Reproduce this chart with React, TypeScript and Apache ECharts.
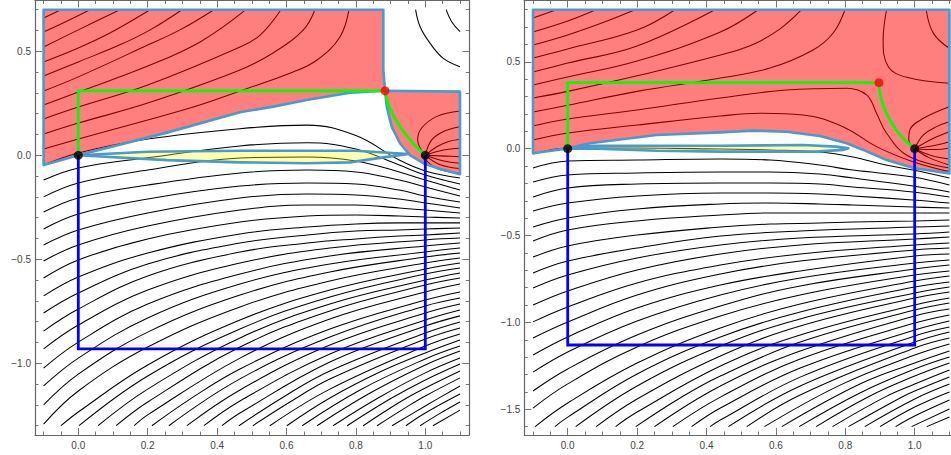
import React, { useEffect, useRef } from "react";
import * as echarts from "echarts";

type Pt = number[];

// ---------- tick values ----------
const xMajor = [0, 0.2, 0.4, 0.6, 0.8, 1.0];
const xMinor = [-0.1, -0.05, 0.05, 0.1, 0.15, 0.25, 0.3, 0.35, 0.45, 0.5, 0.55, 0.65, 0.7, 0.75, 0.85, 0.9, 0.95, 1.05, 1.1];
const yMajorLeft = [-1.0, -0.5, 0, 0.5];
const yMinorLeft = [-1.3, -1.2, -1.1, -0.9, -0.8, -0.7, -0.6, -0.4, -0.3, -0.2, -0.1, 0.1, 0.2, 0.3, 0.4, 0.6, 0.7];
const yMajorRight = [-1.5, -1.0, -0.5, 0, 0.5];
const yMinorRight = [-1.6, -1.4, -1.3, -1.2, -1.1, -0.9, -0.8, -0.7, -0.6, -0.4, -0.3, -0.2, -0.1, 0.1, 0.2, 0.3, 0.4, 0.6, 0.7, 0.8];

// ---------- left panel contours ----------
const leftHumpX = [-0.1, 0, 0.2, 0.466, 0.66, 0.8, 0.925, 1.0, 1.1];
const leftHumpY = [
  [-0.047, 0.011, 0.078, 0.128, 0.145, 0.095, -0.023, -0.075, -0.109],
  [-0.119, -0.061, -0.012, 0.045, 0.06, 0.03, -0.047, -0.095, -0.138],
  [-0.2, -0.133, -0.071, -0.013, -0.008, -0.027, -0.08, -0.119, -0.167],
  [-0.273, -0.205, -0.143, -0.085, -0.071, -0.08, -0.119, -0.152, -0.196],
  [-0.354, -0.282, -0.21, -0.148, -0.133, -0.138, -0.167, -0.196, -0.225],
  [-0.431, -0.359, -0.277, -0.205, -0.186, -0.191, -0.21, -0.229, -0.253],
  [-0.508, -0.431, -0.34, -0.263, -0.239, -0.239, -0.253, -0.263, -0.277],
  [-0.59, -0.503, -0.402, -0.321, -0.292, -0.287, -0.292, -0.297, -0.301],
  [-0.676, -0.585, -0.47, -0.378, -0.345, -0.33, -0.325, -0.325, -0.325],
  [-0.758, -0.662, -0.523, -0.422, -0.383, -0.364, -0.359, -0.354, -0.35],
  [-0.845, -0.739, -0.58, -0.465, -0.422, -0.402, -0.388, -0.383, -0.374],
];
const leftLowX = [-0.1, 0, 0.2, 0.466, 0.725, 1.0, 1.1];
const leftLowY = [
  [-0.931, -0.816, -0.648, -0.518, -0.446, -0.407, -0.398],
  [-1.023, -0.898, -0.715, -0.571, -0.484, -0.436, -0.422],
  [-1.109, -0.975, -0.782, -0.619, -0.523, -0.465, -0.446],
  [-1.2, -1.052, -0.85, -0.672, -0.561, -0.489, -0.47],
  [-1.292, -1.133, -0.922, -0.729, -0.604, -0.518, -0.494],
];
const leftBottom: Pt[][] = [
  [[-0.05, -1.3], [0, -1.234], [0.2, -1.008], [0.466, -0.792], [0.725, -0.648], [1, -0.547], [1.1, -0.518]],
  [[0.002, -1.3], [0.2, -1.061], [0.466, -0.835], [0.725, -0.681], [1, -0.571], [1.1, -0.542]],
  [[0.057, -1.3], [0.2, -1.124], [0.466, -0.878], [0.725, -0.715], [1, -0.6], [1.1, -0.566]],
  [[0.109, -1.3], [0.2, -1.186], [0.466, -0.922], [0.725, -0.748], [1, -0.624], [1.1, -0.59]],
  [[0.161, -1.3], [0.2, -1.248], [0.466, -0.975], [0.725, -0.787], [1, -0.657], [1.1, -0.619]],
  [[0.212, -1.3], [0.322, -1.172], [0.466, -1.027], [0.725, -0.835], [1, -0.696], [1.1, -0.657]],
  [[0.261, -1.3], [0.466, -1.075], [0.725, -0.874], [1, -0.724], [1.1, -0.686]],
  [[0.313, -1.3], [0.466, -1.128], [0.725, -0.912], [1, -0.758], [1.1, -0.715]],
  [[0.362, -1.3], [0.466, -1.181], [0.725, -0.955], [1, -0.792], [1.1, -0.744]],
  [[0.414, -1.3], [0.466, -1.239], [0.725, -0.994], [1, -0.821], [1.1, -0.772]],
  [[0.463, -1.3], [0.596, -1.157], [0.725, -1.037], [1, -0.854], [1.1, -0.801]],
  [[0.503, -1.3], [0.61, -1.186], [0.725, -1.075], [1, -0.883], [1.1, -0.83]],
  [[0.552, -1.3], [0.725, -1.124], [1, -0.917], [1.1, -0.859]],
  [[0.601, -1.3], [0.725, -1.167], [0.869, -1.042], [1, -0.95], [1.1, -0.888]],
  [[0.645, -1.3], [0.812, -1.128], [1, -0.979], [1.1, -0.917]],
  [[0.688, -1.3], [0.841, -1.143], [1, -1.008], [1.1, -0.941]],
  [[0.734, -1.3], [0.869, -1.162], [1, -1.046], [1.1, -0.975]],
  [[0.775, -1.3], [0.898, -1.172], [1, -1.08], [1.1, -1.003]],
  [[0.821, -1.3], [0.927, -1.186], [1, -1.119], [1.1, -1.037]],
  [[0.861, -1.3], [0.956, -1.2], [1, -1.157], [1.1, -1.07]],
  [[0.904, -1.3], [1, -1.205], [1.1, -1.109]],
  [[0.944, -1.3], [1, -1.239], [1.1, -1.148]],
  [[0.985, -1.3], [1.04, -1.243], [1.1, -1.186]],
  [[1.022, -1.3], [1.1, -1.225]],
];
const leftUpper: Pt[][] = [
  [[-0.1, 0.66], [-0.05, 0.7]],
  [[-0.1, 0.593], [-0.038, 0.641], [0.034, 0.7]],
  [[-0.1, 0.521], [0, 0.603], [0.12, 0.7]],
  [[-0.1, 0.449], [0, 0.516], [0.091, 0.588], [0.207, 0.7]],
  [[-0.1, 0.381], [0, 0.449], [0.12, 0.531], [0.207, 0.603], [0.299, 0.7]],
  [[-0.1, 0.309], [0, 0.377], [0.2, 0.53], [0.293, 0.603], [0.391, 0.7]],
  [[-0.1, 0.242], [0, 0.304], [0.2, 0.429], [0.351, 0.545], [0.483, 0.7]],
  [[-0.1, 0.175], [0, 0.232], [0.2, 0.338], [0.466, 0.521], [0.524, 0.578], [0.584, 0.7]],
  [[-0.1, 0.102], [0, 0.155], [0.2, 0.251], [0.466, 0.41], [0.561, 0.492], [0.648, 0.602], [0.682, 0.7]],
  [[-0.1, 0.03], [0, 0.078], [0.2, 0.17], [0.35, 0.242], [0.466, 0.309], [0.619, 0.4], [0.688, 0.458], [0.754, 0.569], [0.78, 0.7]],
  [[0.972, 0.7], [0.985, 0.618], [1.014, 0.538], [1.052, 0.466], [1.1, 0.426]],
  [[1.06, 0.7], [1.076, 0.642], [1.1, 0.594]],
];
const leftFan: Pt[][] = [
  [[1, 0], [0.978, 0.073], [0.989, 0.13], [1.032, 0.186], [1.1, 0.213]],
  [[1, 0], [1.018, 0.073], [1.051, 0.113], [1.1, 0.137]],
  [[1, 0], [1.033, 0.041], [1.065, 0.065], [1.1, 0.077]],
  [[1, 0], [1.052, 0.025], [1.1, 0.034]],
  [[1, 0], [1.06, -0.004], [1.1, -0.007]],
  [[1, 0], [1.05, -0.026], [1.1, -0.038]],
  [[1, 0], [1.043, -0.045], [1.1, -0.063]],
  [[0.99, 0], [1.03, -0.06], [1.1, -0.087]],
];

// ---------- left panel regions and paths ----------
const leftRedA: Pt[] = [[-0.1, 0.7], [0.879, 0.7], [0.879, 0.41], [0.884, 0.31], [0.783, 0.301], [0.658, 0.266], [0.562, 0.234], [0.466, 0.207], [0.255, 0.109], [0, 0], [-0.1, -0.047]];
const leftRedB: Pt[] = [[0.884, 0.31], [1.1, 0.306], [1.1, -0.091], [1.042, -0.066], [0.994, -0.038], [0.956, 0.001], [0.927, 0.058], [0.903, 0.138], [0.889, 0.234]];
const leftLens: Pt[] = [[0, 0], [0.2, 0.017], [0.466, 0.022], [0.8, 0.022], [0.917, 0.01], [0.951, 0.006], [0.879, -0.01], [0.783, -0.034], [0.658, -0.038], [0.466, -0.034], [0.255, -0.023]];
const leftGreenBox: Pt[] = [[0, 0], [0, 0.31], [0.884, 0.31]];
const leftGreenCurve: Pt[] = [[0.884, 0.31], [0.898, 0.226], [0.927, 0.138], [0.965, 0.058], [1, 0]];
const leftBlue: Pt[] = [[0, 0], [0, -0.931], [1, -0.931], [1, 0]];
const leftBlack: Pt[] = [[0, 0], [1, 0]];
const leftRed: Pt[] = [[0.884, 0.31]];

// ---------- right panel contours ----------
const rightJ1: Pt[] = [[-0.1, -0.031], [0, 0.004], [0.2, 0.004], [0.44, -0.002], [0.583, -0.007], [0.727, -0.019], [0.822, -0.048], [0.917, -0.094], [0.995, -0.123], [1.1, -0.169]];
const rightHumpX = [-0.1, 0, 0.2, 0.44, 0.583, 0.727, 0.822, 0.995, 1.1];
const rightHumpY = [
  [-0.111, -0.071, -0.065, -0.059, -0.065, -0.094, -0.123, -0.163, -0.209],
  [-0.192, -0.151, -0.14, -0.134, -0.134, -0.146, -0.169, -0.215, -0.249],
  [-0.278, -0.226, -0.203, -0.197, -0.197, -0.203, -0.22, -0.249, -0.278],
  [-0.359, -0.313, -0.272, -0.255, -0.255, -0.261, -0.272, -0.295, -0.313],
  [-0.451, -0.399, -0.347, -0.318, -0.313, -0.318, -0.324, -0.336, -0.341],
  [-0.531, -0.468, -0.416, -0.382, -0.37, -0.37, -0.37, -0.37, -0.37],
  [-0.624, -0.56, -0.497, -0.451, -0.434, -0.428, -0.422, -0.416, -0.41],
];
const rightLowX = [-0.1, 0, 0.2, 0.44, 0.67, 1.0, 1.1];
const rightLowY = [
  [-0.716, -0.647, -0.572, -0.503, -0.474, -0.451, -0.445],
  [-0.802, -0.727, -0.629, -0.554, -0.514, -0.491, -0.48],
  [-0.9, -0.819, -0.698, -0.606, -0.554, -0.52, -0.508],
  [-0.997, -0.911, -0.773, -0.67, -0.606, -0.554, -0.543],
  [-1.09, -0.998, -0.842, -0.721, -0.647, -0.583, -0.572],
  [-1.188, -1.084, -0.917, -0.785, -0.704, -0.618, -0.606],
  [-1.286, -1.17, -0.992, -0.842, -0.744, -0.658, -0.641],
  [-1.395, -1.268, -1.073, -0.906, -0.79, -0.693, -0.67],
  [-1.493, -1.354, -1.141, -0.963, -0.842, -0.727, -0.704],
];
const rightBottom: Pt[][] = [
  [[-0.094, -1.6], [0, -1.464], [0.2, -1.234], [0.44, -1.032], [0.67, -0.894], [1, -0.762], [1.1, -0.733]],
  [[-0.037, -1.6], [0, -1.545], [0.2, -1.297], [0.44, -1.084], [0.67, -0.94], [1, -0.796], [1.1, -0.767]],
  [[0.023, -1.6], [0.2, -1.366], [0.44, -1.136], [0.67, -0.98], [1, -0.831], [1.1, -0.796]],
  [[0.082, -1.6], [0.2, -1.441], [0.44, -1.193], [0.67, -1.021], [1, -0.86], [1.1, -0.825]],
  [[0.138, -1.6], [0.2, -1.516], [0.44, -1.251], [0.67, -1.073], [1, -0.9], [1.1, -0.86]],
  [[0.196, -1.6], [0.324, -1.435], [0.44, -1.309], [0.67, -1.113], [1, -0.929], [1.1, -0.888]],
  [[0.25, -1.6], [0.44, -1.366], [0.67, -1.165], [1, -0.963], [1.1, -0.923]],
  [[0.303, -1.6], [0.44, -1.43], [0.67, -1.211], [1, -1.004], [1.1, -0.957]],
  [[0.357, -1.6], [0.44, -1.493], [0.67, -1.263], [1, -1.044], [1.1, -0.992]],
  [[0.41, -1.6], [0.44, -1.562], [0.67, -1.315], [1, -1.078], [1.1, -1.027]],
  [[0.463, -1.6], [0.67, -1.366], [1, -1.113], [1.1, -1.055]],
  [[0.516, -1.6], [0.67, -1.418], [1, -1.147], [1.1, -1.09]],
  [[0.567, -1.6], [0.785, -1.361], [1, -1.188], [1.1, -1.124]],
  [[0.617, -1.6], [0.842, -1.355], [1, -1.234], [1.1, -1.165]],
  [[0.667, -1.6], [0.842, -1.406], [1, -1.268], [1.1, -1.199]],
  [[0.716, -1.6], [0.871, -1.424], [1, -1.309], [1.1, -1.234]],
  [[0.763, -1.6], [0.914, -1.43], [1, -1.355], [1.1, -1.274]],
  [[0.809, -1.6], [0.958, -1.435], [1, -1.395], [1.1, -1.314]],
  [[0.856, -1.6], [1, -1.441], [1.1, -1.355]],
  [[0.9, -1.6], [1, -1.487], [1.1, -1.4]],
  [[0.945, -1.6], [1, -1.539], [1.1, -1.447]],
  [[0.991, -1.6], [1.1, -1.499]],
  [[1.035, -1.6], [1.1, -1.545]],
];
const rightUpper: Pt[][] = [
  [[-0.1, 0.752], [-0.032, 0.8]],
  [[-0.1, 0.672], [0, 0.735], [0.081, 0.8]],
  [[-0.1, 0.597], [0, 0.655], [0.1, 0.725], [0.194, 0.8]],
  [[-0.1, 0.522], [0, 0.574], [0.2, 0.683], [0.309, 0.8]],
  [[-0.1, 0.442], [0, 0.493], [0.2, 0.591], [0.424, 0.8]],
  [[-0.1, 0.367], [0, 0.413], [0.2, 0.505], [0.44, 0.672], [0.549, 0.8]],
  [[-0.1, 0.292], [0, 0.33], [0.2, 0.42], [0.44, 0.539], [0.534, 0.6], [0.612, 0.69], [0.674, 0.8]],
  [[-0.1, 0.211], [0, 0.25], [0.2, 0.33], [0.44, 0.407], [0.583, 0.464], [0.707, 0.568], [0.765, 0.666], [0.799, 0.8]],
  [[-0.1, 0.131], [0, 0.171], [0.2, 0.223], [0.44, 0.292], [0.631, 0.338], [0.804, 0.348], [0.862, 0.309], [0.89, 0.204], [0.919, 0.089], [0.981, -0.042], [1.1, -0.111]],
  [[-0.1, 0.05], [0, 0.09], [0.2, 0.136], [0.44, 0.188], [0.554, 0.204], [0.678, 0.194], [0.793, 0.127], [0.89, 0.012], [0.995, -0.075], [1.1, -0.132]],
  [[0.919, 0.8], [0.909, 0.626], [0.924, 0.472], [0.977, 0.411], [1.1, 0.377]],
  [[1.033, 0.8], [1.054, 0.664], [1.1, 0.578]],
];
const rightFan: Pt[][] = [
  [[1, 0], [0.983, 0.05], [0.986, 0.108], [1.025, 0.175], [1.1, 0.242]],
  [[1, 0], [1.025, 0.079], [1.063, 0.127], [1.1, 0.155]],
  [[1, 0], [1.054, 0.06], [1.1, 0.098]],
  [[1, 0], [1.063, 0.021], [1.1, 0.04]],
  [[1, 0], [1.06, -0.005], [1.1, 0.004]],
  [[1, 0], [1.05, -0.04], [1.1, -0.059]],
  [[1, 0], [1.04, -0.05], [1.1, -0.094]],
];

// ---------- right panel regions and paths ----------
const rightRed: Pt[] = [[-0.1, 0.8], [1.1, 0.8], [1.1, -0.142], [1, -0.113], [0.919, -0.065], [0.852, -0.007], [0.804, 0.031], [0.727, 0.073], [0.631, 0.098], [0.535, 0.104], [0.44, 0.094], [0.256, 0.079], [0.064, 0.031], [0, 0.002], [-0.1, -0.026]];
const rightLens: Pt[] = [[0, 0], [0.064, 0.017], [0.44, 0.017], [0.678, 0.021], [0.775, 0.012], [0.809, 0.002], [0.793, -0.007], [0.717, -0.017], [0.583, -0.017], [0.44, -0.017], [0.256, -0.012], [0.064, 0.002]];
const rightGreenBox: Pt[] = [[0, 0], [0, 0.38], [0.897, 0.38]];
const rightGreenCurve: Pt[] = [[0.897, 0.38], [0.902, 0.3], [0.919, 0.204], [0.958, 0.079], [1, 0]];
const rightBlue: Pt[] = [[0, 0], [0, -1.13], [1, -1.13], [1, 0]];
const rightBlack: Pt[] = [[0, 0], [1, 0]];
const rightRedDot: Pt[] = [[0.897, 0.38]];

const zip = (xs: number[], ys: number[]): Pt[] => xs.map((x, i) => [x, ys[i]]);
const fmt = (v: number) => v.toFixed(1).replace("-", "\u2212");
const frame = "#666666";

function axisSet(
  dim: "x" | "y",
  gridIndex: number,
  min: number,
  max: number,
  major: number[],
  minor: number[],
) {
  const sides = dim === "x" ? ["bottom", "top"] : ["left", "right"];
  const out: any[] = [];
  sides.forEach((position, s) => {
    [major, minor].forEach((vals, m) => {
      const isLabelled = s === 0 && m === 0;
      out.push({
        type: "value",
        gridIndex,
        position,
        min,
        max,
        splitLine: { show: false },
        axisLine: { show: m === 0, onZero: false, lineStyle: { color: frame, width: 1.2 } },
        axisTick: {
          show: true,
          inside: true,
          length: m === 0 ? 7 : 3.5,
          customValues: vals,
          lineStyle: { color: frame, width: 0.9 },
        },
        axisLabel: isLabelled
          ? {
              show: true,
              customValues: vals,
              formatter: fmt,
              fontFamily: "'Liberation Sans', Arial, sans-serif",
              fontSize: 10,
              color: "#444444",
              margin: dim === "x" ? 5 : 4,
              showMinLabel: true,
              showMaxLabel: true,
              hideOverlap: false,
            }
          : { show: false },
      });
    });
  });
  return out;
}

function panelSeries(
  axisX: number,
  axisY: number,
  contours: Pt[][],
  reds: Pt[][],
  lens: Pt[],
  greenBox: Pt[],
  greenCurve: Pt[],
  blue: Pt[],
  black: Pt[],
  redDot: Pt[],
) {
  const on = { xAxisIndex: axisX, yAxisIndex: axisY };
  const list: any[] = contours.map((data) => ({
    type: "line",
    ...on,
    data,
    smooth: 0.4,
    showSymbol: false,
    silent: true,
    z: 2,
    lineStyle: { color: "#000000", width: 1.05 },
  }));
  const poly = (pts: Pt[], fill: string, z: number) => ({
    type: "custom",
    ...on,
    silent: true,
    z,
    data: [[pts[0][0], pts[0][1]]],
    renderItem: (_: any, api: any) => ({
      type: "polygon",
      shape: { points: pts.map((p) => api.coord(p)) },
      style: { fill, stroke: "#479bcd", lineWidth: 2.6, lineJoin: "round" },
    }),
  });
  reds.forEach((r) => list.push(poly(r, "rgba(255,0,0,0.5)", 3)));
  list.push(poly(lens, "rgba(255,255,0,0.32)", 4));
  const path = (data: Pt[], color: string, smooth: number | boolean, z: number) => ({
    type: "line",
    ...on,
    data,
    smooth,
    showSymbol: false,
    silent: true,
    z,
    lineStyle: { color, width: 2.8, join: "miter" },
  });
  list.push(path(blue, "#0000ff", false, 5));
  list.push(path(greenBox, "#00ff00", false, 6));
  list.push(path(greenCurve, "#00ff00", 0.4, 6));
  const dots = (data: Pt[], color: string) => ({
    type: "scatter",
    ...on,
    data,
    symbolSize: 9,
    silent: true,
    z: 8,
    itemStyle: { color },
  });
  list.push(dots(black, "#000000"));
  list.push(dots(redDot, "#ff0000"));
  return list;
}

export default function App() {
  const ref = useRef<HTMLDivElement>(null);
  useEffect(() => {
    document.body.style.margin = "0";
    document.body.style.overflow = "hidden";
    const chart = echarts.init(ref.current!, undefined, { renderer: "svg" });
    const leftContours: Pt[][] = [
      ...leftUpper,
      ...leftFan,
      ...leftHumpY.map((ys) => zip(leftHumpX, ys)),
      ...leftLowY.map((ys) => zip(leftLowX, ys)),
      ...leftBottom,
    ];
    const rightContours: Pt[][] = [
      ...rightUpper,
      ...rightFan,
      rightJ1,
      ...rightHumpY.map((ys) => zip(rightHumpX, ys)),
      ...rightLowY.map((ys) => zip(rightLowX, ys)),
      ...rightBottom,
    ];
    const xL = axisSet("x", 0, -0.1248, 1.1268, xMajor, xMinor);
    const yL = axisSet("y", 0, -1.3447, 0.7442, yMajorLeft, yMinorLeft);
    const xR = axisSet("x", 1, -0.1251, 1.1268, xMajor, xMinor);
    const yR = axisSet("y", 1, -1.6482, 0.8532, yMajorRight, yMinorRight);
    chart.setOption({
      animation: false,
      backgroundColor: "#ffffff",
      grid: [
        { left: 35, top: 0.5, width: 434.3, height: 434.5, outerBoundsMode: "none" },
        { left: 524.3, top: 0.5, width: 434.4, height: 434.5, outerBoundsMode: "none" },
      ],
      xAxis: [...xL, ...xR],
      yAxis: [...yL, ...yR],
      series: [
        ...panelSeries(0, 0, leftContours, [leftRedA, leftRedB], leftLens, leftGreenBox, leftGreenCurve, leftBlue, leftBlack, leftRed),
        ...panelSeries(4, 4, rightContours, [rightRed], rightLens, rightGreenBox, rightGreenCurve, rightBlue, rightBlack, rightRedDot),
      ],
    });
    return () => chart.dispose();
  }, []);
  return <div ref={ref} style={{ width: 951, height: 455 }} />;
}
